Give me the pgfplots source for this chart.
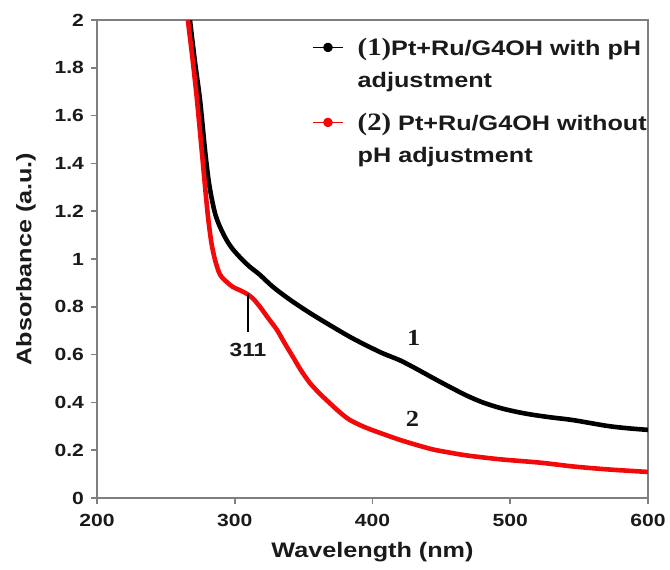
\documentclass[border=0pt]{standalone}
\usepackage{pgfplots}
\pgfplotsset{compat=1.18}
\usepackage{fontspec}
\setmainfont{Liberation Sans}[FakeStretch=1.2]
\newfontfamily\serifb{Liberation Serif}[FakeStretch=1.15]
\definecolor{axgray}{HTML}{7F7F7F}
\definecolor{txt}{HTML}{1A1A1A}
\definecolor{myred}{HTML}{F20A0A}
\pgfplotstableread{
x y
266.8 2.05
267.5 2.00
271 1.83
274.8 1.665
278.4 1.456
281 1.33
283.5 1.247
286 1.185
289.3 1.134
294 1.08
298.7 1.04
305 1.00
311 0.967
318 0.935
327.8 0.883
340 0.830
354.6 0.774
370 0.720
383.7 0.674
395 0.640
407.6 0.605
420 0.576
432 0.540
444 0.502
456 0.465
468.6 0.428
480 0.400
492.5 0.377
505 0.360
516.5 0.348
530 0.337
545.6 0.326
570 0.302
585 0.292
600 0.285
}\blackdata
\pgfplotstableread{
x y
265.3 2.05
266 2.00
269.5 1.83
272.6 1.665
276 1.456
278.5 1.30
280.6 1.176
283 1.07
285.7 0.996
289.3 0.935
294.4 0.903
298.7 0.883
305 0.866
310 0.850
314 0.830
318.3 0.800
324 0.755
330.7 0.703
336 0.650
342.3 0.590
348 0.535
354.6 0.481
362 0.435
369 0.397
376 0.360
383.7 0.326
395 0.295
407.6 0.268
420 0.243
432 0.222
444 0.203
456 0.190
468.6 0.178
492.5 0.162
521.6 0.148
545.6 0.132
570 0.120
600 0.109
}\reddata
\begin{document}
\begin{tikzpicture}
\useasboundingbox (-48.5pt,-35.5pt) rectangle (286.5pt,249pt);
\begin{axis}[
  scale only axis, width=275.5pt, height=239pt,
  xmin=200, xmax=600, ymin=0, ymax=2,
  xtick={200,300,400,500,600},
  ytick={0,0.2,0.4,0.6,0.8,1,1.2,1.4,1.6,1.8,2},
  tick align=outside, xtick pos=bottom, ytick pos=left,
  major tick length=3pt,
  axis line style={axgray, line width=0.8pt},
  tick style={axgray, line width=0.8pt},
  /pgf/number format/assume math mode=true,
  tick label style={font=\fontsize{8.8}{10}\selectfont\bfseries, text=txt},
  xticklabel style={yshift=-1.5pt},
  xlabel={Wavelength (nm)}, ylabel={Absorbance (a.u.)},
  label style={font=\fontsize{10.5}{12}\selectfont\bfseries, text=txt},
  xlabel style={at={(axis description cs:0.5,-0.1255)}, anchor=base},
  ylabel style={at={(axis description cs:-0.129,0.5)}, anchor=center},
  clip=true,
  legend cell align=left,
  legend style={draw=none, fill=none, inner sep=0pt,
    at={(axis description cs:0.39,0.977)}, anchor=north west,
    font=\fontsize{10.5}{12}\selectfont\bfseries, text=txt,
    row sep=0pt, column sep=5pt,
    nodes={inner ysep=0pt, inner xsep=2pt, text height={}, text depth={}}},
  legend image code/.code={
    \draw[#1, line width=0.7pt] (0pt,0pt) -- (15pt,0pt);
    \fill[#1] (7.5pt,0pt) circle (1.2pt);},
]
\addplot[black, line width=2.3pt, line join=round, smooth, tension=0.5] table[x=x,y=y]{\blackdata};
\addlegendentry{\rule[-4pt]{0pt}{16pt}{\serifb\bfseries\fontsize{12.5}{13}\selectfont(1)}Pt+Ru/G4OH with pH}
\addlegendimage{empty legend}
\addlegendentry{\rule[-9.5pt]{0pt}{21.5pt}adjustment}
\addplot[myred, line width=2.3pt, line join=round, smooth, tension=0.5] table[x=x,y=y]{\reddata};
\addlegendentry{\rule[-4pt]{0pt}{16pt}{\serifb\bfseries\fontsize{12.5}{13}\selectfont(2)} Pt+Ru/G4OH without}
\addlegendimage{empty legend}
\addlegendentry{\rule[-4pt]{0pt}{16pt}pH adjustment}
\draw[black, line width=0.7pt] (axis cs:309.6,0.855) -- (axis cs:309.6,0.695);
\node[font=\fontsize{9.5}{11}\selectfont\bfseries, text=txt] at (axis cs:309.6,0.62) {311};
\node[font=\serifb\bfseries\fontsize{11.5}{13}\selectfont, text=txt] at (axis cs:430,0.67) {1};
\node[font=\serifb\bfseries\fontsize{11.5}{13}\selectfont, text=txt] at (axis cs:429,0.33) {2};
\end{axis}
\end{tikzpicture}
\end{document}
